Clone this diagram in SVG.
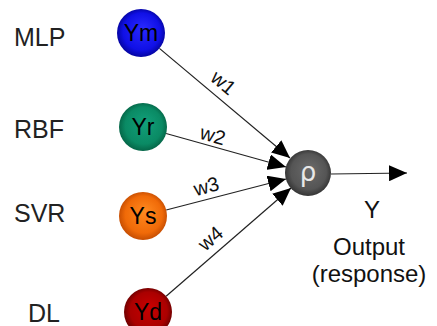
<svg xmlns="http://www.w3.org/2000/svg" width="437" height="326" viewBox="0 0 437 326">
  <style>
    .lbl { font-family: "Liberation Sans", Arial, sans-serif; font-size: 25px; fill: #222; }
    .inner { font-family: "Liberation Sans", Arial, sans-serif; font-size: 23px; fill: #000; text-anchor: middle; }
    .w { font-family: "Liberation Sans", Arial, sans-serif; font-size: 20px; fill: #111; text-anchor: middle; }
    .out { font-family: "Liberation Sans", Arial, sans-serif; font-size: 24px; fill: #111; text-anchor: middle; }
    .edge { stroke: #222; stroke-width: 1.2; fill: none; marker-end: url(#arrow); }
  </style>
  <defs>
    <marker id="arrow" markerUnits="userSpaceOnUse" markerWidth="20" markerHeight="16" refX="18" refY="8" orient="auto">
      <path d="M0,0 L18,8 L0,16 Z" fill="#000"/>
    </marker>
    <radialGradient id="gBlue" cx="50%" cy="50%" r="55%" fx="55%" fy="40%">
      <stop offset="0" stop-color="#2a2aff"/>
      <stop offset="0.7" stop-color="#1010e6"/>
      <stop offset="1" stop-color="#00008a"/>
    </radialGradient>
    <radialGradient id="gGreen" cx="50%" cy="50%" r="55%" fx="55%" fy="40%">
      <stop offset="0" stop-color="#12a07a"/>
      <stop offset="0.7" stop-color="#0a8a64"/>
      <stop offset="1" stop-color="#035a3e"/>
    </radialGradient>
    <radialGradient id="gOrange" cx="50%" cy="50%" r="55%" fx="55%" fy="40%">
      <stop offset="0" stop-color="#ff8a20"/>
      <stop offset="0.7" stop-color="#f06a08"/>
      <stop offset="1" stop-color="#b84400"/>
    </radialGradient>
    <radialGradient id="gRed" cx="50%" cy="50%" r="55%" fx="55%" fy="40%">
      <stop offset="0" stop-color="#c80000"/>
      <stop offset="0.7" stop-color="#aa0000"/>
      <stop offset="1" stop-color="#5a0000"/>
    </radialGradient>
    <radialGradient id="gGray" cx="50%" cy="50%" r="55%" fx="55%" fy="40%">
      <stop offset="0" stop-color="#6a6a6a"/>
      <stop offset="0.7" stop-color="#555"/>
      <stop offset="1" stop-color="#2a2a2a"/>
    </radialGradient>
  </defs>

  <!-- model names -->
  <g id="labels">
    <text class="lbl" x="14" y="46">MLP</text>
    <text class="lbl" x="14" y="138">RBF</text>
    <text class="lbl" x="14" y="222">SVR</text>
    <text class="lbl" x="28" y="322">DL</text>
  </g>

  <!-- weighted connections -->
  <g id="connectors">
    <line class="edge" x1="159.4" y1="48.4" x2="290" y2="158"/>
    <line class="edge" x1="166.1" y1="133.5" x2="286" y2="167"/>
    <line class="edge" x1="166.2" y1="210" x2="286" y2="179"/>
    <line class="edge" x1="166.1" y1="296.3" x2="291" y2="188"/>
    <line class="edge" x1="331" y1="174" x2="407" y2="173"/>
    <text class="w" transform="translate(219,88) rotate(40)">w1</text>
    <text class="w" transform="translate(211,142) rotate(15.6)">w2</text>
    <text class="w" transform="translate(208,193) rotate(-14.6)">w3</text>
    <text class="w" transform="translate(215,243.5) rotate(-41)">w4</text>
  </g>

  <g id="node-ym">
    <circle cx="141" cy="33" r="24" fill="url(#gBlue)"/>
    <text class="inner" x="141" y="41">Ym</text>
  </g>
  <g id="node-yr">
    <circle cx="143" cy="127" r="24" fill="url(#gGreen)"/>
    <text class="inner" x="143" y="135">Yr</text>
  </g>
  <g id="node-ys">
    <circle cx="143" cy="216" r="24" fill="url(#gOrange)"/>
    <text class="inner" x="143" y="224">Ys</text>
  </g>
  <g id="node-yd">
    <circle cx="148" cy="312" r="24" fill="url(#gRed)"/>
    <text class="inner" x="148" y="320">Yd</text>
  </g>
  <g id="node-rho">
    <circle cx="308" cy="173" r="23" fill="url(#gGray)"/>
    <text x="308" y="181" font-family="DejaVu Sans, sans-serif" font-size="26" fill="#e8e8e8" text-anchor="middle">ρ</text>
  </g>

  <g id="output-label">
    <text class="out" x="372" y="218">Y</text>
    <text class="out" x="369" y="255">Output</text>
    <text class="out" x="369" y="282">(response)</text>
  </g>
</svg>
